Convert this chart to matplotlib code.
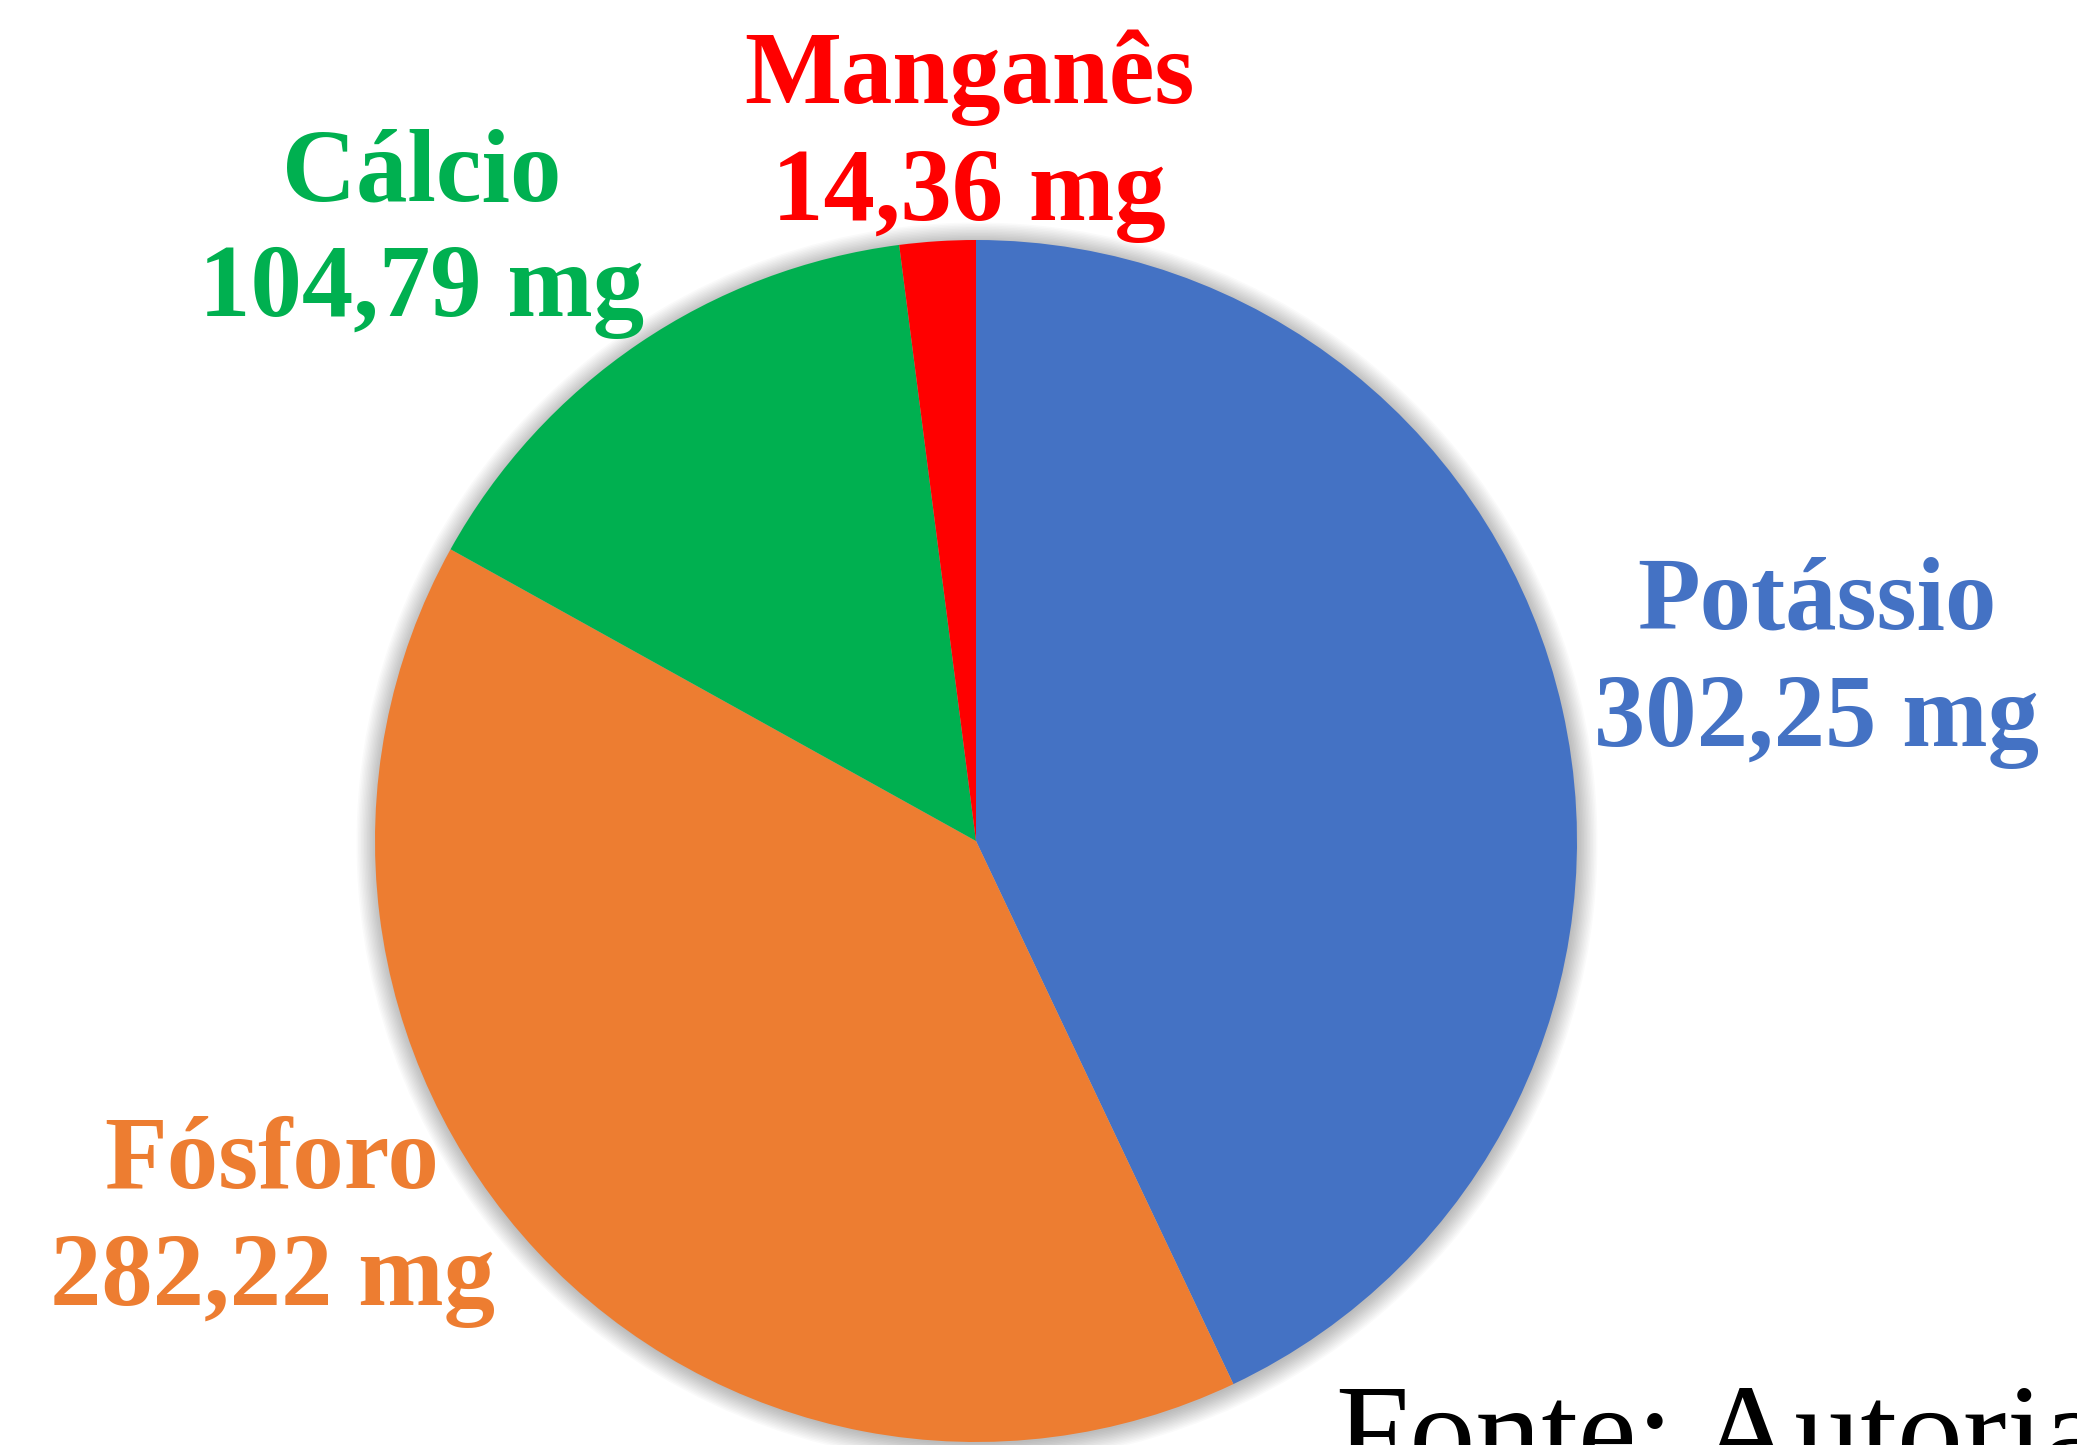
import matplotlib
matplotlib.use("Agg")
import matplotlib.pyplot as plt
from matplotlib.patches import Circle

# dados
nomes = ["Potássio", "Fósforo", "Cálcio", "Manganês"]
valores = [302.25, 282.22, 104.79, 14.36]
cores = ["#4472C4", "#ED7D31", "#00B050", "#FF0000"]
fonte = "Fonte: Autoria"

W, H = 2077, 1445
fig = plt.figure(figsize=(W / 100, H / 100), dpi=100)
ax = fig.add_axes([0, 0, 1, 1])

cx, cy, r = 976, H - 841, 601

# sombra suave em volta da pizza
for k in range(14):
    ax.add_patch(Circle((cx + 1, cy - 2), r + 1.5 * k, color="black",
                        alpha=0.018, lw=0, zorder=0))

ax.pie(valores, colors=cores, startangle=90, counterclock=False,
       center=(cx, cy), radius=r, frame=True,
       wedgeprops=dict(linewidth=0, zorder=2))

ax.set_xlim(0, W)
ax.set_ylim(0, H)
ax.set_aspect("equal")
ax.axis("off")

# posições dos rótulos (centro x, linha de base do nome, linha de base do valor)
pos_rotulos = [(1817, 629, 746), (272, 1188, 1305), (422, 200, 316), (969, 103, 220)]

for nome, v, cor, (x, y1, y2) in zip(nomes, valores, cores, pos_rotulos):
    txt_v = f"{v:.2f}".replace(".", ",") + " mg"
    ax.text(x, H - y1, nome, color=cor, fontsize=74, fontweight="bold",
            family="Liberation Serif", ha="center", va="baseline")
    ax.text(x, H - y2, txt_v, color=cor, fontsize=74, fontweight="bold",
            family="Liberation Serif", ha="center", va="baseline")

ax.text(1336, H - 1475, fonte, color="black", fontsize=95,
        family="Liberation Serif", ha="left", va="baseline")

fig.savefig("out.png", dpi=100, facecolor="white")
